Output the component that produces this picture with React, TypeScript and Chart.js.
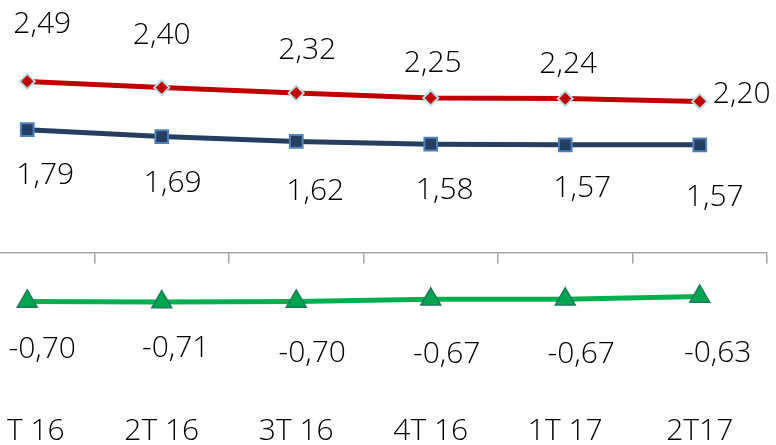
import { useEffect, useRef } from "react";
import { Chart, registerables } from "chart.js";

Chart.register(...registerables);

const categories = ["1T 16", "2T 16", "3T 16", "4T 16", "1T 17", "2T17"];
const redValues = [2.49, 2.4, 2.32, 2.25, 2.24, 2.2];
const blueValues = [1.79, 1.69, 1.62, 1.58, 1.57, 1.57];
const greenValues = [-0.7, -0.71, -0.7, -0.67, -0.67, -0.63];

const yMin = -2.13;
const yMax = 3.67;

// label placement (px offsets from each point: dx to centre, dy to baseline)
const labelDx = [
  [15, 0, 11, 2, 3, 42],
  [18, 11, 19, 14, 17, 15],
  [15, 14, 16, 16, 16, 18],
];
const labelDy = [
  [-48, -44, -34, -26, -26, 2],
  [54, 55, 59, 55, 52, 61],
  [57, 55, 61, 64, 64, 65],
];

const FONT = "'Open Sans', sans-serif";
const fmt = (v: number) => v.toFixed(2).replace(".", ",");

const labelPlugin = {
  id: "valueLabels",
  afterDatasetsDraw(chart: any) {
    const ctx = chart.ctx as CanvasRenderingContext2D;
    ctx.save();
    ctx.font = `300 30px ${FONT}`;
    ctx.fillStyle = "#000000";
    ctx.textAlign = "center";
    ctx.textBaseline = "alphabetic";
    chart.data.datasets.forEach((ds: any, di: number) => {
      const meta = chart.getDatasetMeta(di);
      meta.data.forEach((pt: any, i: number) => {
        const v = ds.data[i] as number;
        ctx.fillText(fmt(v), pt.x + labelDx[di][i], pt.y + labelDy[di][i]);
      });
    });
    ctx.restore();
  },
};

export default function App() {
  const ref = useRef<HTMLCanvasElement | null>(null);

  useEffect(() => {
    if (!ref.current) return;
    const chart = new Chart(ref.current, {
      type: "line",
      data: {
        labels: categories,
        datasets: [
          {
            data: redValues,
            borderColor: "#C00000",
            borderWidth: 5,
            tension: 0,
            pointStyle: "rectRot",
            pointRadius: 7.5,
            pointBackgroundColor: "#C00000",
            pointBorderColor: "#B7DEE8",
            pointBorderWidth: 2,
            xAxisID: "x",
          },
          {
            data: blueValues,
            borderColor: "#243F60",
            borderWidth: 5,
            tension: 0,
            pointStyle: "rect",
            pointRadius: 9,
            pointBackgroundColor: "#243F60",
            pointBorderColor: "#4F81BD",
            pointBorderWidth: 2,
            xAxisID: "x",
          },
          {
            data: greenValues,
            borderColor: "#00B050",
            borderWidth: 5,
            tension: 0,
            pointStyle: "triangle",
            pointRadius: 11.5,
            pointBackgroundColor: "#00A550",
            pointBorderColor: "#1D7A5E",
            pointBorderWidth: 1.5,
            xAxisID: "x",
          },
        ],
      },
      options: {
        responsive: true,
        maintainAspectRatio: false,
        animation: false,
        layout: { autoPadding: false, padding: { left: 0, right: 8, top: 0, bottom: 0 } },
        plugins: {
          legend: { display: false },
          tooltip: { enabled: false },
        },
        scales: {
          y: { display: false, min: yMin, max: yMax },
          x: {
            type: "category",
            position: "bottom",
            offset: true,
            grid: { display: false, drawTicks: false },
            border: { display: false },
            ticks: {
              font: { family: FONT, size: 30, weight: "300" },
              color: "#000000",
              padding: 13,
              maxRotation: 0,
              autoSkip: false,
            },
            afterFit: (s: any) => {
              s.height = 45;
            },
          },
          x0: {
            type: "category",
            position: { y: 0 },
            offset: true,
            grid: {
              display: true,
              drawOnChartArea: false,
              drawTicks: true,
              tickLength: 10,
              offset: true,
              color: "#A6A6A6",
              lineWidth: 1.5,
            },
            border: { display: true, color: "#A6A6A6", width: 1.5 },
            ticks: { display: false },
          },
        } as any,
      },
      plugins: [labelPlugin],
    });
    return () => chart.destroy();
  }, []);

  return (
    <div
      style={{
        position: "fixed",
        left: 0,
        top: 0,
        width: 776,
        height: 445,
        overflow: "hidden",
        background: "#ffffff",
      }}
    >
      <div style={{ position: "absolute", left: -40, top: 0, width: 815, height: 445 }}>
        <canvas ref={ref} />
      </div>
    </div>
  );
}
